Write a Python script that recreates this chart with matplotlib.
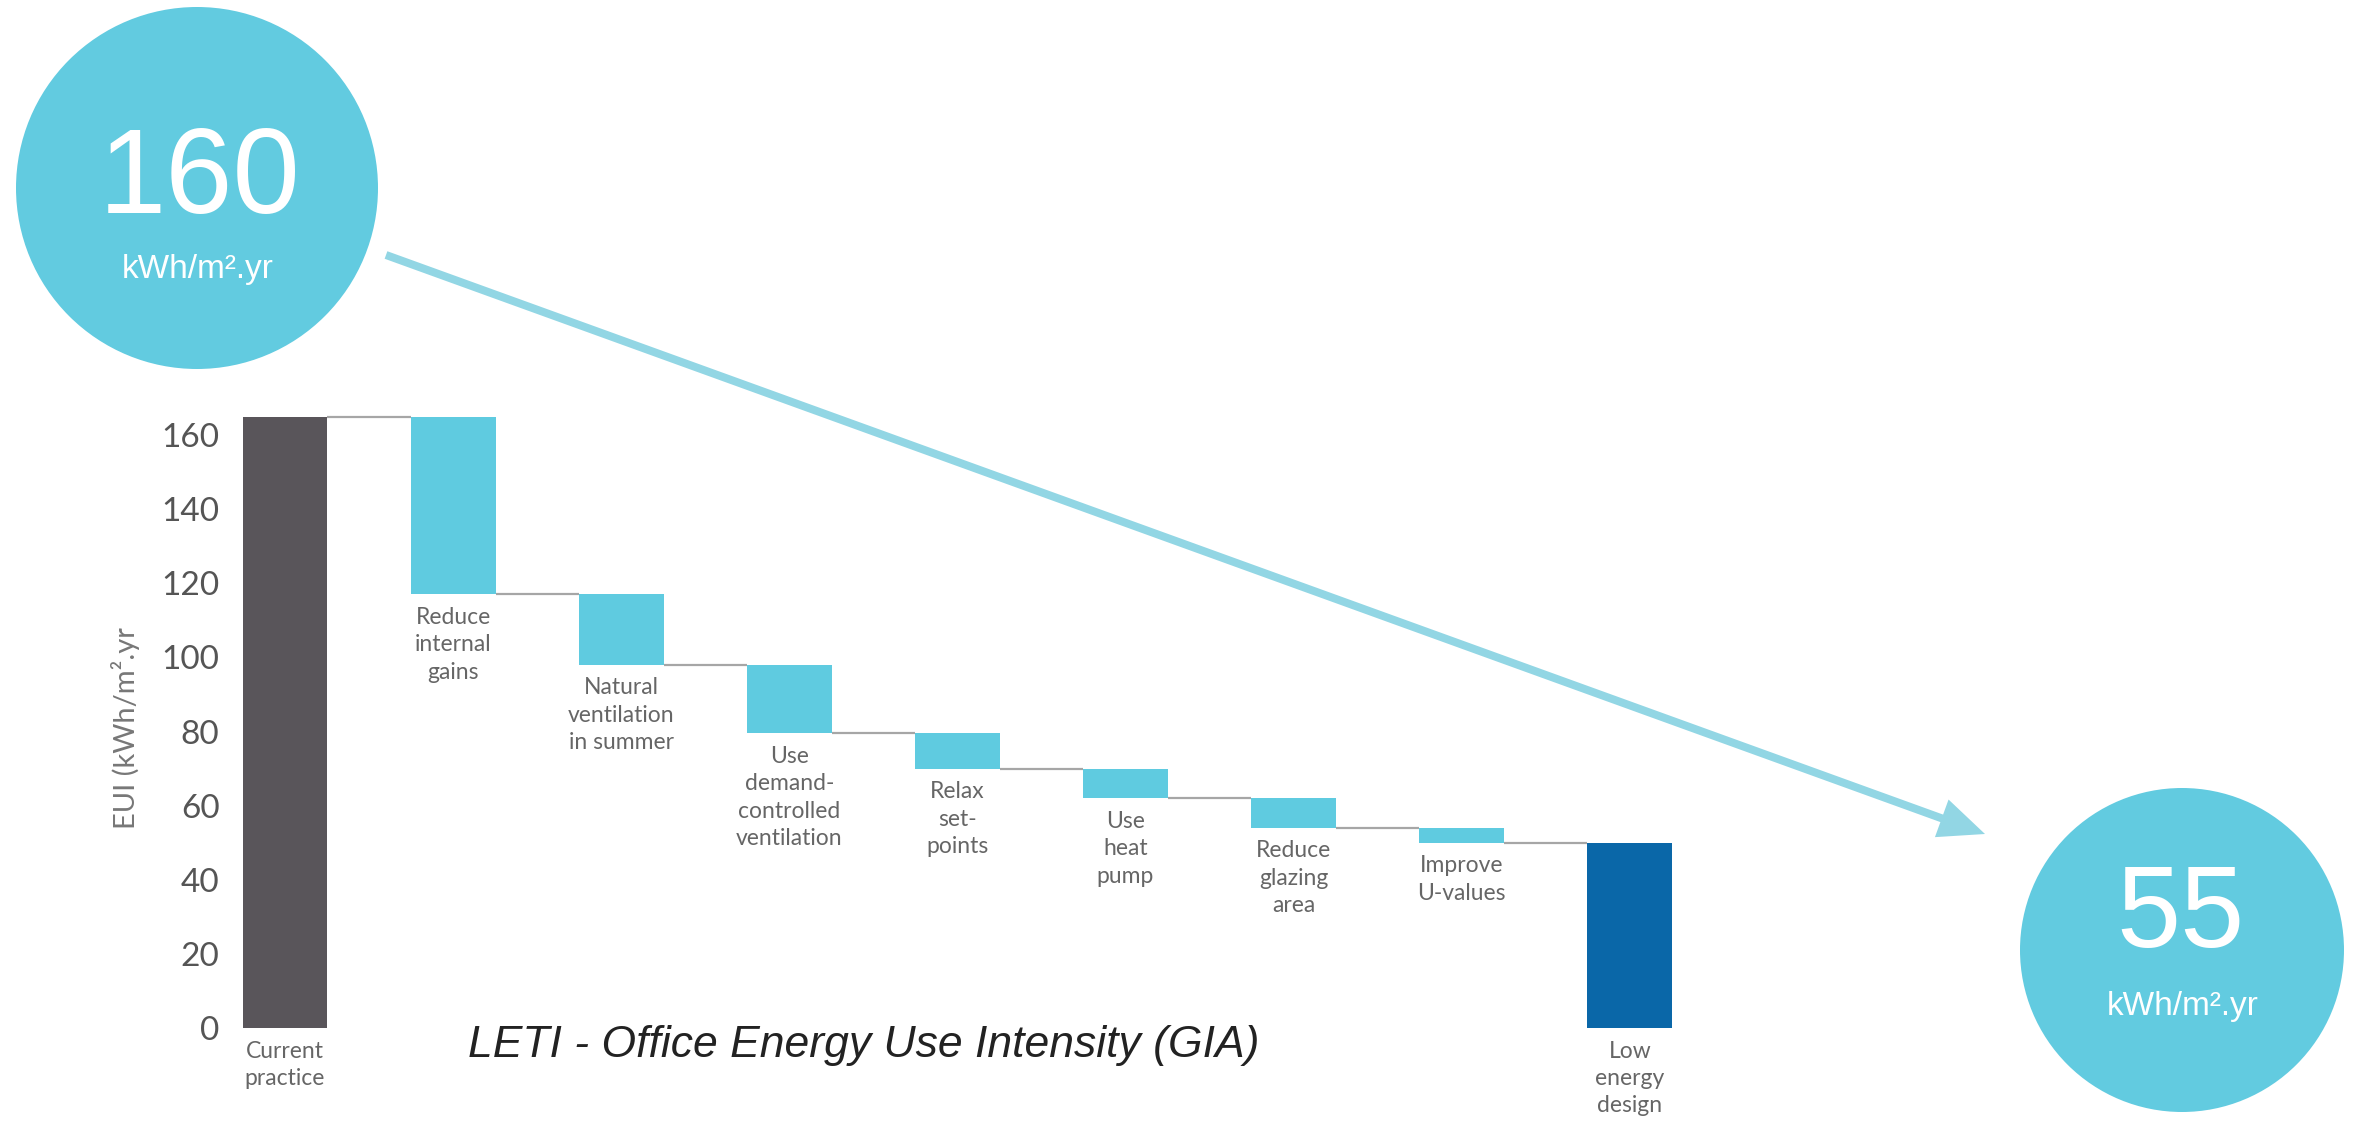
import matplotlib
matplotlib.use("Agg")
import matplotlib.pyplot as plt
from matplotlib.patches import Circle, FancyArrow

# ---------------- data ----------------
categories = ["Current\npractice", "Reduce\ninternal\ngains", "Natural\nventilation\nin summer",
              "Use\ndemand-\ncontrolled\nventilation", "Relax\nset-\npoints", "Use\nheat\npump",
              "Reduce\nglazing\narea", "Improve\nU-values", "Low\nenergy\ndesign"]
start_value = 165
step_levels = [117, 98, 79.5, 70, 62, 54, 50]   # running EUI after each measure
final_value = 50
yticks = [0, 20, 40, 60, 80, 100, 120, 140, 160]
circle_left_value = "160"
circle_right_value = "55"
unit_text = "kWh/m\u00b2.yr"
title_text = "LETI - Office Energy Use Intensity (GIA)"
ylabel_text = "EUI (kWh/m\u00b2.yr"

# ---------------- style ----------------
W, H, DPI = 2356, 1140, 100
C_DARK = "#59555a"
C_CYAN = "#5fcbe0"
C_BLUE = "#0a67a8"
C_CIRCLE = "#62cbe0"
C_ARROW = "#92d6e4"
C_CONN = "#a6a6a6"
C_LABEL = "#666666"
LBL_FONT = "Lato"
ARIAL = "Liberation Sans"

fig = plt.figure(figsize=(W / DPI, H / DPI), dpi=DPI)
fig.patch.set_facecolor("white")

# chart axes, placed in pixel terms
step_px = 168.1
first_center = 285
ax_left, ax_right = 225, 1714
ax_bottom, ax_top = 1028, 398
ax = fig.add_axes([ax_left / W, 1 - ax_bottom / H, (ax_right - ax_left) / W, (ax_bottom - ax_top) / H])
ax.set_xlim(-(first_center - ax_left) / step_px, (ax_right - first_center) / step_px)
ax.set_ylim(0, 170)
for s in ax.spines.values():
    s.set_visible(False)
ax.set_facecolor("none")

bw = 0.505
x = list(range(len(categories)))
# bars
ax.bar(x[0], start_value, width=bw, color=C_DARK, zorder=2)
prev = start_value
for i, lvl in enumerate(step_levels, start=1):
    ax.bar(x[i], prev - lvl, bottom=lvl, width=bw, color=C_CYAN, zorder=2)
    prev = lvl
ax.bar(x[-1], final_value, width=bw, color=C_BLUE, zorder=2)

# connectors
levels = [start_value] + step_levels
for i, lvl in enumerate(levels):
    ax.plot([x[i] + bw / 2, x[i + 1] - bw / 2], [lvl, lvl], color=C_CONN, lw=1.6, zorder=1,
            solid_capstyle="butt")

# category labels
bottoms = [0] + step_levels + [0]
for i, (cat, b) in enumerate(zip(categories, bottoms)):
    ax.annotate(cat, xy=(x[i], b), xytext=(0, -9), textcoords="offset points",
                ha="center", va="top", fontsize=16.5, color=C_LABEL, family=LBL_FONT,
                linespacing=1.38)

ax.set_xticks([])
ax.set_yticks(yticks)
ax.set_yticklabels([str(t) for t in yticks], fontsize=24, color="#555555", family=LBL_FONT)
ax.tick_params(axis="y", length=0, pad=4)

fig.text(126 / W, 1 - 728 / H, ylabel_text, rotation=90, ha="center", va="center",
         fontsize=21, color="#777777", family=LBL_FONT)

fig.text(864 / W, 1 - 1046 / H, title_text, ha="center", va="center", fontsize=32,
         style="italic", color="#222222", family=ARIAL)

# overlay in pixel coordinates
ov = fig.add_axes([0, 0, 1, 1], zorder=5)
ov.set_xlim(0, W)
ov.set_ylim(H, 0)
ov.axis("off")
ov.patch.set_alpha(0)

ov.add_patch(Circle((197, 188), 181, color=C_CIRCLE, lw=0))
ov.add_patch(Circle((2182, 950), 162, color=C_CIRCLE, lw=0))

x0, y0, x1, y1 = 386, 255, 1985, 834
ov.add_patch(FancyArrow(x0, y0, x1 - x0, y1 - y0, width=8, head_width=40, head_length=46,
                        length_includes_head=True, color=C_ARROW, lw=0))

ov.text(200, 213, circle_left_value, ha="center", va="baseline", fontsize=87, color="white", family=ARIAL)
ov.text(198, 278, unit_text, ha="center", va="baseline", fontsize=24, color="white", family=ARIAL)
ov.text(2180, 947, circle_right_value, ha="center", va="baseline", fontsize=83, color="white", family=ARIAL)
ov.text(2183, 1015, unit_text, ha="center", va="baseline", fontsize=24, color="white", family=ARIAL)

fig.savefig("out.png", dpi=DPI, facecolor="white")
